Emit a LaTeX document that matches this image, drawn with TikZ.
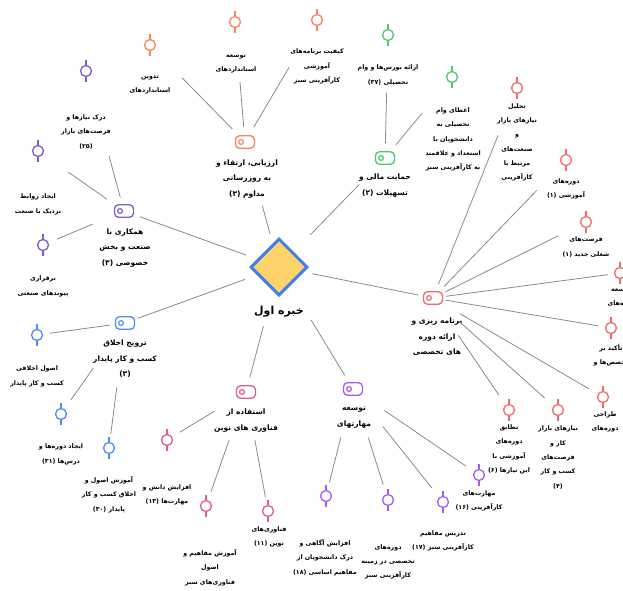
\documentclass[tikz,border=0pt]{standalone}
\usepackage{fontspec}
\newfontfamily\arabicfont[Script=Arabic]{DejaVu Sans}
\TeXXeTstate=1
\usetikzlibrary{shapes.geometric}

\definecolor{evc}{HTML}{F5845F}
\definecolor{finc}{HTML}{4CC96F}
\definecolor{plnc}{HTML}{F06B6B}
\definecolor{sklc}{HTML}{A45CF0}
\definecolor{tecc}{HTML}{E25C8A}
\definecolor{ethc}{HTML}{4D8DF5}
\definecolor{cooc}{HTML}{7F5CC7}
\definecolor{linec}{HTML}{8A8A8A}
\definecolor{dmfill}{HTML}{FDD36A}
\definecolor{dmline}{HTML}{3D7FF0}

\newcommand{\fa}[1]{\beginR#1\endR}
\newcommand{\hubfont}{\arabicfont\bfseries\fontsize{7.5}{15.5}\selectfont}
\newcommand{\leaffont}{\arabicfont\bfseries\fontsize{6.3}{14.3}\selectfont}

\begin{document}
\begin{tikzpicture}[x=1pt,y=-1pt,
  conn/.style={draw=linec, line width=0.8pt},
  hubic/.style={draw=#1, line width=1.3pt, rounded corners=4pt, minimum width=19pt,
    minimum height=12.5pt, inner sep=0pt,
    path picture={\draw[#1, line width=1.2pt] ([xshift=5.5pt]path picture bounding box.west) circle (2.4pt);}},
  leafic/.style={circle, draw=#1, line width=1.3pt, minimum size=11pt, inner sep=0pt,
    append after command={(\tikzlastnode.north) edge[draw=#1, line width=1.3pt] +(0,5pt)
      (\tikzlastnode.south) edge[draw=#1, line width=1.3pt] +(0,-5pt)}},
  hubtxt/.style={font=\hubfont, align=center, inner sep=0pt},
  leaftxt/.style={font=\leaffont, align=center, inner sep=0pt}]
\useasboundingbox (0,0) rectangle (623,590);
\clip (0,0) rectangle (623,590);

% centre
\node[diamond, draw=dmline, fill=dmfill, line width=3pt, minimum width=57pt,
  minimum height=57pt, inner sep=0pt] (exp) at (279,267) {};
\node[font=\arabicfont\bfseries\fontsize{11}{13}\selectfont, inner sep=0pt] (exp-t) at (279,312) {\fa{خبره اول}};

% hubs
\node[hubic=evc] (ev) at (245,142) {};
\node[hubtxt] (ev-t) at (247,179) {\fa{ارزیابی، ارتقاء و}\\\fa{به روزرسانی}\\\fa{مداوم (۳)}};
\node[hubic=finc] (fin) at (385,158) {};
\node[hubtxt] (fin-t) at (385,185.5) {\fa{حمایت مالی و}\\\fa{تسهیلات (۲)}};
\node[hubic=plnc] (pln) at (433,298) {};
\node[hubtxt] (pln-t) at (437,337) {\fa{برنامه ریزی و}\\\fa{ارائه دوره}\\\fa{های تخصصی}};
\node[hubic=sklc] (skl) at (353,389) {};
\node[hubtxt] (skl-t) at (354,417.5) {\fa{توسعه}\\\fa{مهارتهای}};
\node[hubic=tecc] (tec) at (246,392) {};
\node[hubtxt] (tec-t) at (246,420.5) {\fa{استفاده از}\\\fa{فناوری های نوین}};
\node[hubic=ethc] (eth) at (125,323) {};
\node[hubtxt] (eth-t) at (125,359) {\fa{ترویج اخلاق}\\\fa{کسب و کار پایدار}\\\fa{(۳)}};
\node[hubic=cooc] (coo) at (124,211) {};
\node[hubtxt] (coo-t) at (125,248) {\fa{همکاری با}\\\fa{صنعت و بخش}\\\fa{خصوصی (۳)}};

% leaves of ev
\node[leafic=evc] (ev1) at (150,45) {};
\node[leaftxt] (ev1-t) at (150,85) {\fa{تدوین}\\\fa{استانداردهای}};
\node[leafic=evc] (ev2) at (235,22) {};
\node[leaftxt] (ev2-t) at (236,64) {\fa{توسعه}\\\fa{استانداردهای}};
\node[leafic=evc] (ev3) at (317,20) {};
\node[leaftxt] (ev3-t) at (317,66.5) {\fa{کیفیت برنامه‌های}\\\fa{آموزشی}\\\fa{کارآفرینی سبز}};

% leaves of fin
\node[leafic=finc] (fin1) at (388,35) {};
\node[leaftxt] (fin1-t) at (388,75) {\fa{ارائه بورس‌ها و وام}\\\fa{تحصیلی (۳۷)}};
\node[leafic=finc] (fin2) at (452,77) {};
\node[leaftxt] (fin2-t) at (453,139.5) {\fa{اعطای وام}\\\fa{تحصیلی به}\\\fa{دانشجویان با}\\\fa{استعداد و علاقمند}\\\fa{به کارآفرینی سبز}};

% leaves of pln
\node[leafic=plnc] (pln1) at (517,88) {};
\node[leaftxt] (pln1-t) at (517,142.5) {\fa{تحلیل}\\\fa{نیازهای بازار}\\\fa{و}\\\fa{صنعت‌های}\\\fa{مرتبط با}\\\fa{کارآفرینی}};
\node[leafic=plnc] (pln2) at (566,160) {};
\node[leaftxt] (pln2-t) at (566,189) {\fa{دوره‌های}\\\fa{آموزشی (۱)}};
\node[leafic=plnc] (pln3) at (586,222) {};
\node[leaftxt] (pln3-t) at (586,247) {\fa{فرصت‌های}\\\fa{شغلی جدید (۱)}};
\node[leafic=plnc] (pln4) at (620,273) {};
\node[leaftxt] (pln4-t) at (621,298) {\fa{توسعه}\\\fa{دوره‌های}};
\node[leafic=plnc] (pln5) at (611,328) {};
\node[leaftxt] (pln5-t) at (611,355) {\fa{تأکید بر}\\\fa{تخصص‌ها و}};
\node[leafic=plnc] (pln6) at (603,397) {};
\node[leaftxt] (pln6-t) at (605,422) {\fa{طراحی}\\\fa{دوره‌های}};
\node[leafic=plnc] (pln7) at (558,410) {};
\node[leaftxt] (pln7-t) at (558,457.5) {\fa{نیازهای بازار}\\\fa{کار و}\\\fa{فرصت‌های}\\\fa{کسب و کار}\\\fa{(۴)}};
\node[leafic=plnc] (pln8) at (509,410) {};
\node[leaftxt] (pln8-t) at (509,449.5) {\fa{تطابق}\\\fa{دوره‌های}\\\fa{آموزشی با}\\\fa{این نیازها (۶)}};

% leaves of skl
\node[leafic=sklc] (skl1) at (479,475) {};
\node[leaftxt] (skl1-t) at (479,501) {\fa{مهارت‌های}\\\fa{کارآفرینی (۱۶)}};
\node[leafic=sklc] (skl2) at (443,502) {};
\node[leaftxt] (skl2-t) at (443,541) {\fa{تدریس مفاهیم}\\\fa{کارآفرینی سبز (۱۷)}};
\node[leafic=sklc] (skl3) at (388,500) {};
\node[leaftxt] (skl3-t) at (388,562) {\fa{دوره‌های}\\\fa{تخصصی در زمینه}\\\fa{کارآفرینی سبز}};
\node[leafic=sklc] (skl4) at (326,496) {};
\node[leaftxt] (skl4-t) at (325,557.5) {\fa{افزایش آگاهی و}\\\fa{درک دانشجویان از}\\\fa{مفاهیم اساسی (۱۸)}};

% leaves of tec
\node[leafic=tecc] (tec1) at (268,511) {};
\node[leaftxt] (tec1-t) at (269,537) {\fa{فناوری‌های}\\\fa{نوین (۱۱)}};
\node[leafic=tecc] (tec2) at (206,506) {};
\node[leaftxt] (tec2-t) at (210,567.5) {\fa{آموزش مفاهیم و}\\\fa{اصول}\\\fa{فناوری‌های سبز}};
\node[leafic=tecc] (tec3) at (167,440) {};
\node[leaftxt] (tec3-t) at (167,495) {\fa{افزایش دانش و}\\\fa{مهارت‌ها (۱۳)}};

% leaves of eth
\node[leafic=ethc] (eth1) at (37,335) {};
\node[leaftxt] (eth1-t) at (37,376.5) {\fa{اصول اخلاقی}\\\fa{کسب و کار پایدار}};
\node[leafic=ethc] (eth2) at (61,414) {};
\node[leaftxt] (eth2-t) at (61,454.5) {\fa{ایجاد دوره‌ها و}\\\fa{درس‌ها (۳۱)}};
\node[leafic=ethc] (eth3) at (109,448) {};
\node[leaftxt] (eth3-t) at (109,494.5) {\fa{آموزش اصول و}\\\fa{اخلاق کسب و کار}\\\fa{پایدار (۳۰)}};

% leaves of coo
\node[leafic=cooc] (coo1) at (86,71) {};
\node[leaftxt] (coo1-t) at (86,132) {\fa{درک نیازها و}\\\fa{فرصت‌های بازار}\\\fa{(۲۵)}};
\node[leafic=cooc] (coo2) at (38,151) {};
\node[leaftxt] (coo2-t) at (38,204.5) {\fa{ایجاد روابط}\\\fa{نزدیک با صنعت}};
\node[leafic=cooc] (coo3) at (43,245) {};
\node[leaftxt] (coo3-t) at (43,286.5) {\fa{برقراری}\\\fa{پیوندهای صنعتی}};

% connectors, centre to centre, cut short at both ends
\foreach \a/\b/\s/\t in {exp/ev/34/66, exp/fin/45/37, exp/pln/34/15, exp/skl/62/16,
    exp/tec/61/15, exp/eth/36/14, exp/coo/35/17,
    ev/ev1/18/46, ev/ev2/15/60, ev/ev3/17/55,
    fin/fin1/15/58, fin/fin2/17/47,
    pln/pln1/15/51, pln/pln2/16/42, pln/pln3/14/31, pln/pln4/13/12, pln/pln5/13/13,
    pln/pln6/31/16, pln/pln7/35/18, pln/pln8/45/18,
    skl/skl1/38/16, skl/skl2/48/18, skl/skl3/51/16, skl/skl4/50/14,
    tec/tec1/49/14, tec/tec2/51/15, tec/tec3/37/15,
    eth/eth1/15/13, eth/eth2/55/17, eth/eth3/65/14,
    coo/coo1/14/88, coo/coo2/21/37, coo/coo3/34/15}
  \draw[conn, shorten <=\s pt, shorten >=\t pt] (\a.center) -- (\b.center);
\end{tikzpicture}
\end{document}
